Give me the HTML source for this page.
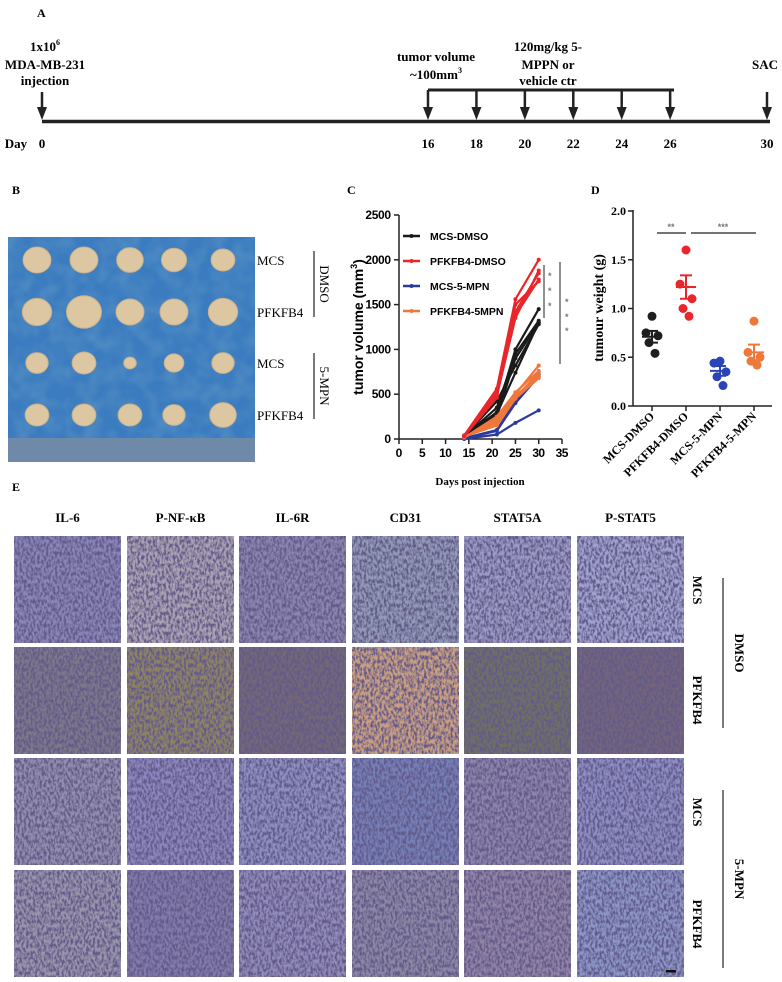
<!DOCTYPE html>
<html><head><meta charset="utf-8">
<style>
html,body{margin:0;padding:0;background:#fff;}
svg{display:block;}
.ser{font-family:"Liberation Serif",serif;font-weight:bold;}
.san{font-family:"Liberation Sans",sans-serif;font-weight:bold;}
</style></head>
<body>
<svg id="fig" width="782" height="982" viewBox="0 0 782 982" xmlns="http://www.w3.org/2000/svg">
<defs>
<filter id="tex" x="0" y="0" width="1" height="1">
<feTurbulence type="fractalNoise" baseFrequency="0.45 0.25" numOctaves="2" seed="3" result="n"/>
<feColorMatrix in="n" type="matrix" values="0 0 0 0 0.12  0 0 0 0 0.1  0 0 0 0 0.25  0 0 0 -3.2 2.05" result="dots"/>
<feComposite in="dots" in2="SourceGraphic" operator="atop"/>
</filter>
<filter id="tex2" x="0" y="0" width="1" height="1">
<feTurbulence type="fractalNoise" baseFrequency="0.06" numOctaves="2" seed="7" result="n"/>
<feColorMatrix in="n" type="matrix" values="0 0 0 0 0.1  0 0 0 0 0.3  0 0 0 0 0.55  0 0 0 -1.2 0.8" result="d"/>
<feComposite in="d" in2="SourceGraphic" operator="atop"/>
</filter>
</defs>

<!-- Panel A -->
<g>
<text x="37" y="17" class="ser" font-size="12">A</text>
<g class="ser" font-size="13" text-anchor="middle">
<text x="45" y="51">1x10<tspan font-size="8" dy="-6">6</tspan></text>
<text x="45" y="69">MDA-MB-231</text>
<text x="45" y="85">injection</text>
<text x="436" y="61">tumor volume</text>
<text x="436" y="79">~100mm<tspan font-size="8" dy="-6">3</tspan></text>
<text x="548" y="51">120mg/kg 5-</text>
<text x="548" y="69">MPPN or</text>
<text x="548" y="85">vehicle ctr</text>
<text x="765" y="69">SAC</text>
</g>
<line x1="42" y1="121.5" x2="770" y2="121.5" stroke="#222" stroke-width="3.5"/>
<line x1="428" y1="90" x2="674" y2="90" stroke="#222" stroke-width="3"/>
<g id="arrows"></g>
<g id="daylabels" class="ser" font-size="13" text-anchor="middle">
<text x="16" y="148">Day</text>
</g>
</g>

<!-- Panel B -->
<g>
<text x="12" y="194" class="ser" font-size="12">B</text>
<rect x="8" y="237" width="247" height="225" fill="#3a7bc0" filter="url(#tex2)"/>
<rect x="8" y="438" width="247" height="24" fill="#6f8aa8"/>
<g id="tumors"></g>
<g class="ser" font-size="13" style="font-weight:normal">
<text x="257" y="265">MCS</text>
<text x="257" y="317">PFKFB4</text>
<text x="257" y="368">MCS</text>
<text x="257" y="420">PFKFB4</text>
</g>
<line x1="314" y1="251" x2="314" y2="317" stroke="#222" stroke-width="1.2"/>
<line x1="314" y1="353" x2="314" y2="419" stroke="#222" stroke-width="1.2"/>
<text transform="translate(320,284) rotate(90)" text-anchor="middle" class="ser" font-size="13" style="font-weight:normal">DMSO</text>
<text transform="translate(320,386) rotate(90)" text-anchor="middle" class="ser" font-size="13" style="font-weight:normal">5-MPN</text>
</g>

<!-- Panel C -->
<g id="chartC">
<text x="347" y="194" class="ser" font-size="12">C</text>
<text transform="translate(363,327) rotate(-90)" text-anchor="middle" class="san" font-size="14">tumor volume (mm<tspan font-size="9" dy="-6">3</tspan><tspan dy="6">)</tspan></text>
<text x="480" y="485" text-anchor="middle" class="ser" font-size="11">Days post injection</text>
<g id="cAxes"></g>
<g id="cLines"></g>
<g id="cLegend"></g>
<g fill="#777" class="san" font-size="9">
<line x1="544" y1="265" x2="544" y2="318" stroke="#222" stroke-width="1"/>
<line x1="560" y1="262" x2="560" y2="364" stroke="#222" stroke-width="1"/>
<text x="548" y="279">*</text><text x="548" y="294">*</text><text x="548" y="309">*</text>
<text x="565" y="305">*</text><text x="565" y="320">*</text><text x="565" y="334">*</text>
</g>
</g>

<!-- Panel D -->
<g id="chartD">
<text x="591" y="194" class="ser" font-size="12">D</text>
<text transform="translate(603,308) rotate(-90)" text-anchor="middle" class="ser" font-size="14">tumour weight (g)</text>
<g id="dAxes"></g>
<g id="dMarks"></g>
<g>
<line x1="657" y1="233" x2="686" y2="233" stroke="#222" stroke-width="1.3"/>
<line x1="691" y1="233" x2="756" y2="233" stroke="#222" stroke-width="1.3"/>
<text x="671" y="230" text-anchor="middle" class="san" font-size="9" fill="#777">**</text>
<text x="723" y="230" text-anchor="middle" class="san" font-size="9" fill="#777">***</text>
</g>
</g>

<!-- Panel E -->
<g>
<text x="12" y="491" class="ser" font-size="12">E</text>
<g id="ihc"></g>
<rect x="666" y="970" width="10" height="2.5" fill="#111"/>
<g class="ser" font-size="13" text-anchor="middle">
<text transform="translate(693,590) rotate(90)">MCS</text>
<text transform="translate(693,700) rotate(90)">PFKFB4</text>
<text transform="translate(693,812) rotate(90)">MCS</text>
<text transform="translate(693,924) rotate(90)">PFKFB4</text>
<text transform="translate(735,653) rotate(90)">DMSO</text>
<text transform="translate(735,879) rotate(90)">5-MPN</text>
</g>
<line x1="723" y1="578" x2="723" y2="728" stroke="#222" stroke-width="1.2"/>
<line x1="723" y1="790" x2="723" y2="968" stroke="#222" stroke-width="1.2"/>
</g>
</svg>

<script>
const NS="http://www.w3.org/2000/svg";
function mk(tag,attrs,parent){const e=document.createElementNS(NS,tag);for(const k in attrs)e.setAttribute(k,attrs[k]);parent.appendChild(e);return e;}

// ---- Panel A data ----
const timelineDays=[0,16,18,20,22,24,26,30];
function tx(d){return d<=16?42+d*(386/16):428+(d-16)*(339/14);}
const arrowsG=document.getElementById('arrows');
timelineDays.forEach(d=>{
  const x=tx(d);
  const top=(d===0||d===30)?92:90;
  const l=mk('line',{x1:x,y1:top,x2:x,y2:108,stroke:'#222','stroke-width':2.5},arrowsG);
  
  
  const p=mk('path',{d:`M${x-5},107 L${x+5},107 L${x},120 Z`,fill:'#222'},arrowsG);
  
  
});
const dayG=document.getElementById('daylabels');
timelineDays.forEach(d=>{
  const t=mk('text',{x:tx(d),y:148},dayG);t.textContent=d;
  
  
});

// ---- Panel B tumors ----
const tumorSizes=[[1.0,1.0,0.95,0.9,0.85],[1.05,1.25,1.0,1.0,1.05],[0.8,0.85,0.45,0.7,0.8],[0.85,0.85,0.85,0.8,0.95]];
const tumorCols=[37,84,130,174,223], tumorRows=[260,312,363,415];
const tg=document.getElementById('tumors');
tumorSizes.forEach((row,ri)=>row.forEach((s,ci)=>{
  const e=mk('ellipse',{cx:tumorCols[ci],cy:tumorRows[ri],rx:14*s,ry:13*s,fill:'#dcc7a2',stroke:'#c8b088','stroke-width':1},tg);
  
  
}));

// ---- Panel C data ----
const cDays=[14,21,25,30];
const cSeriesNames=['MCS-DMSO','PFKFB4-DMSO','MCS-5-MPN','PFKFB4-5MPN'];
const cColors=['#1a1a1a','#e8262b','#2b3a9c','#f0773a'];
const mcsDmso=[[30,300,1000,1450],[20,250,900,1300],[25,350,950,1320],[30,420,820,1280],[20,280,740,1300]];
const pfkDmso=[[40,560,1560,2000],[30,500,1420,1850],[35,520,1380,1780],[30,460,1500,1760],[40,480,1350,1880]];
const mcsMpn=[[0,50,180,320],[5,90,400,700],[10,100,420,720]];
const pfkMpn=[[20,200,500,820],[25,180,480,700],[15,250,520,760],[30,150,450,680],[20,220,460,740]];
const cTicksX=[0,5,10,15,20,25,30,35];
const cTicksY=[0,500,1000,1500,2000,2500];
function cx(d){return 399+d*(163/35);}
function cy(v){return 439-v*(224/2500);}
const cAx=document.getElementById('cAxes');
mk('line',{x1:399,y1:215,x2:399,y2:439,stroke:'#222','stroke-width':1.5},cAx);
mk('line',{x1:399,y1:439,x2:562,y2:439,stroke:'#222','stroke-width':1.5},cAx);
cTicksY.forEach(v=>{
  mk('line',{x1:394,y1:cy(v),x2:399,y2:cy(v),stroke:'#222','stroke-width':1.5},cAx);
  const t=mk('text',{x:391,y:cy(v)+4,'text-anchor':'end','font-family':'Liberation Sans, sans-serif','font-size':12,'font-weight':'bold'},cAx);
  t.textContent=v;t.setAttribute('textLength',String(v).length*6.4);
  
  
});
cTicksX.forEach(v=>{
  mk('line',{x1:cx(v),y1:439,x2:cx(v),y2:444,stroke:'#222','stroke-width':1.5},cAx);
  const t=mk('text',{x:cx(v),y:457,'text-anchor':'middle','font-family':'Liberation Sans, sans-serif','font-size':12,'font-weight':'bold'},cAx);
  t.textContent=v;t.setAttribute('textLength',String(v).length*6.4);
  
  
});
const cL=document.getElementById('cLines');
[mcsDmso,mcsMpn,pfkMpn,pfkDmso].forEach(ser=>{
  const idx=ser===mcsDmso?0:ser===pfkDmso?1:ser===mcsMpn?2:3;
  ser.forEach(vals=>{
    const pts=vals.map((v,i)=>cx(cDays[i])+','+cy(v)).join(' ');
    const pl=mk('polyline',{points:pts,fill:'none',stroke:cColors[idx],'stroke-width':2.2},cL);
    
    
    vals.forEach((v,i)=>{
      const c=mk('circle',{cx:cx(cDays[i]),cy:cy(v),r:2,fill:cColors[idx]},cL);
      
      
    });
  });
});
const cLg=document.getElementById('cLegend');
cSeriesNames.forEach((n,i)=>{
  const y=236+i*25;
  const g=mk('g',{},cLg);
  
  
  mk('line',{x1:403,y1:y,x2:420,y2:y,stroke:cColors[i],'stroke-width':2.5},g);
  mk('circle',{cx:411.5,cy:y,r:2,fill:cColors[i]},g);
  const t=mk('text',{x:430,y:y+4,'font-family':'Liberation Sans, sans-serif','font-size':10.5,'font-weight':'bold'},g);
  t.textContent=n;
});

// ---- Panel D data ----
const dCategories=['MCS-DMSO','PFKFB4-DMSO','MCS-5-MPN','PFKFB4-5-MPN'];
const dColors=['#1f1f1f','#e8262b','#2b44b8','#f0773a'];
const dPoints=[[0.92,0.75,0.72,0.65,0.54],[1.6,1.25,1.1,1.0,0.92],[0.46,0.44,0.35,0.30,0.21],[0.87,0.55,0.50,0.46,0.42]];
const dMeans=[0.71,1.22,0.36,0.55];
const dSem=[0.06,0.12,0.05,0.08];
const dJitter=[0,-6,6,-3,3];
const dTicks=[0,0.5,1.0,1.5,2.0];
function dy(v){return 406-v*(195/2);}
function dx(i){return 652+i*34;}
const dAx=document.getElementById('dAxes');
mk('line',{x1:633,y1:210,x2:633,y2:406,stroke:'#222','stroke-width':1.5},dAx);
mk('line',{x1:633,y1:406,x2:772,y2:406,stroke:'#222','stroke-width':1.5},dAx);
dTicks.forEach(v=>{
  mk('line',{x1:628,y1:dy(v),x2:633,y2:dy(v),stroke:'#222','stroke-width':1.5},dAx);
  const t=mk('text',{x:626,y:dy(v)+4,'text-anchor':'end','font-family':'Liberation Serif, serif','font-size':12,'font-weight':'bold'},dAx);
  t.textContent=v.toFixed(1);
  
  
});
dCategories.forEach((c,i)=>{
  mk('line',{x1:dx(i),y1:406,x2:dx(i),y2:411,stroke:'#222','stroke-width':1.5},dAx);
  const t=mk('text',{x:dx(i)+3,y:417,'text-anchor':'end','font-family':'Liberation Serif, serif','font-size':12,'font-weight':'bold',transform:`rotate(-45 ${dx(i)+3} 417)`},dAx);
  t.textContent=c;
  
  
});
const dM=document.getElementById('dMarks');
dPoints.forEach((pts,i)=>{
  pts.forEach((v,j)=>{
    const c=mk('circle',{cx:dx(i)+dJitter[j],cy:dy(v),r:4.5,fill:dColors[i]},dM);
    
    
  });
  const m=dMeans[i],s=dSem[i];
  const g=mk('g',{stroke:dColors[i],'stroke-width':2},dM);
  
  
  mk('line',{x1:dx(i)-10,y1:dy(m),x2:dx(i)+10,y2:dy(m)},g);
  mk('line',{x1:dx(i),y1:dy(m-s),x2:dx(i),y2:dy(m+s)},g);
  mk('line',{x1:dx(i)-6,y1:dy(m-s),x2:dx(i)+6,y2:dy(m-s)},g);
  mk('line',{x1:dx(i)-6,y1:dy(m+s),x2:dx(i)+6,y2:dy(m+s)},g);
});

// ---- Panel E ----
const ihcMarkers=['IL-6','P-NF-κB','IL-6R','CD31','STAT5A','P-STAT5'];
const ihcColors=[
 ['#8a86b8','#aca2b4','#8d85b0','#939ab8','#9c9ac6','#a0a2d0'],
 ['#7e788a','#8f8460','#746876','#caa080','#707060','#74657a'],
 ['#948eae','#8c87be','#8e90c2','#7680b8','#8e84ac','#8e8ec6'],
 ['#9a94ac','#827cac','#928cbc','#8e88a6','#9284a6','#8c96c8']];
const colX=[14,127,239,352,464,577], rowY=[536,647,758,870], cellW=107, cellH=107;
const ihc=document.getElementById('ihc');
ihcMarkers.forEach((m,i)=>{
  const t=mk('text',{x:colX[i]+cellW/2,y:522,'text-anchor':'middle','font-family':'Liberation Serif, serif','font-size':13,'font-weight':'bold'},ihc);
  t.textContent=m;
  
  
});
ihcColors.forEach((row,r)=>row.forEach((col,c)=>{
  const rc=mk('rect',{x:colX[c],y:rowY[r],width:cellW,height:cellH,fill:col,filter:'url(#tex)'},ihc);
  
  
}));
</script>
</body></html>
